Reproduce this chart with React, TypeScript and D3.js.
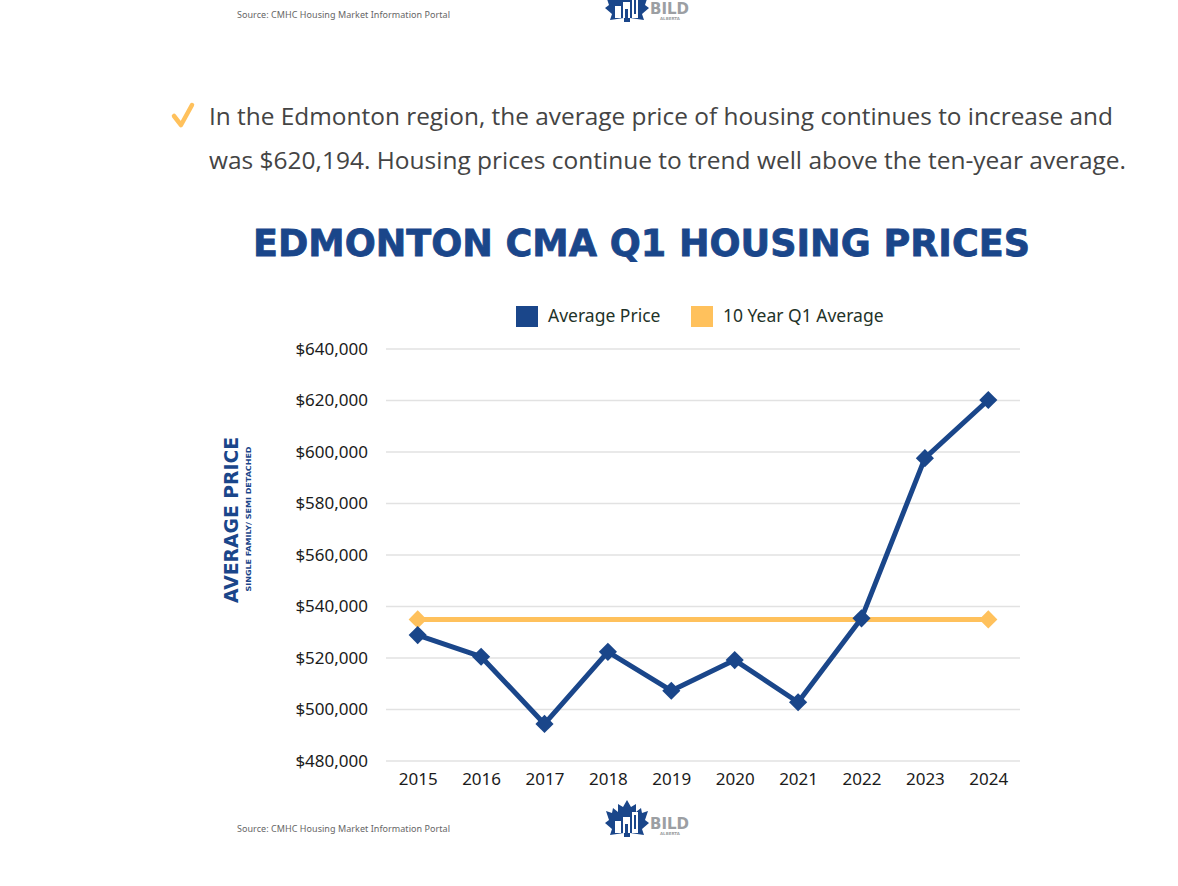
import { useEffect, useRef } from "react";
import * as d3 from "d3";

// chart data
const years = ["2015", "2016", "2017", "2018", "2019", "2020", "2021", "2022", "2023", "2024"];
const averagePrice = [528900, 520500, 494400, 522400, 507300, 519200, 502800, 535400, 597600, 620194];
const tenYearAverage = [535000, 535000, 535000, 535000, 535000, 535000, 535000, 535000, 535000, 535000];
const yTicks = [480000, 500000, 520000, 540000, 560000, 580000, 600000, 620000, 640000];
const legendLabels = ["Average Price", "10 Year Q1 Average"];
const bodyLines = [
  "In the Edmonton region, the average price of housing continues to increase and",
  "was $620,194. Housing prices continue to trend well above the ten-year average.",
];

const BLUE = "#1a468a";
const ORANGE = "#ffc15c";

function drawLogo(g, dy) {
  const logo = g.append("g").attr("transform", `translate(0, ${dy})`);
  // rough maple leaf
  const leaf = [
    [627, 800], [631, 807], [636, 804], [636, 812], [641, 808], [642, 813], [648, 811],
    [645, 820], [649, 823], [642, 829], [644, 835], [630, 833], [630, 837], [624, 837],
    [624, 833], [610, 835], [612, 829], [605, 823], [609, 820], [606, 811], [612, 813],
    [613, 808], [618, 812], [618, 804], [623, 807],
  ];
  logo.append("path")
    .attr("d", d3.line()(leaf) + "Z")
    .attr("fill", BLUE);
  // little white buildings
  logo.append("rect").attr("x", 615).attr("y", 821).attr("width", 6).attr("height", 12).attr("fill", "#fff");
  logo.append("rect").attr("x", 623).attr("y", 817).attr("width", 7).attr("height", 16).attr("fill", "#fff");
  logo.append("rect").attr("x", 632).attr("y", 812).attr("width", 6).attr("height", 21).attr("fill", "#fff");
  logo.append("rect").attr("x", 625).attr("y", 824).attr("width", 3).attr("height", 9).attr("fill", BLUE);
  logo.append("rect").attr("x", 634).attr("y", 815).attr("width", 2).attr("height", 14).attr("fill", BLUE);
  logo.append("text")
    .attr("x", 650).attr("y", 829)
    .attr("font-family", "'DejaVu Sans', sans-serif")
    .attr("font-weight", "bold")
    .attr("font-size", 15)
    .attr("fill", "#9c9fa3")
    .attr("textLength", 39)
    .text("BILD");
  logo.append("text")
    .attr("x", 660).attr("y", 835)
    .attr("font-family", "'DejaVu Sans', sans-serif")
    .attr("font-weight", "bold")
    .attr("font-size", 4)
    .attr("fill", "#9c9fa3")
    .text("ALBERTA");
}

function drawSource(g, y) {
  g.append("text")
    .attr("x", 237).attr("y", y)
    .attr("font-family", "'Noto Sans', sans-serif")
    .attr("font-size", 9)
    .attr("fill", "#666")
    .attr("textLength", 213)
    .text("Source: CMHC Housing Market Information Portal");
}

export default function App() {
  const ref = useRef(null);

  useEffect(() => {
    const svg = d3.select(ref.current);
    svg.selectAll("*").remove();

    const x = d3.scalePoint().domain(years).range([386, 1020]).padding(0.5);
    const y = d3.scaleLinear().domain([480000, 640000]).range([761, 349]);

    // header bits from the previous page
    drawSource(svg, 18);
    drawLogo(svg, -815);

    // check mark + paragraph
    svg.append("path")
      .attr("d", "M174,116 L181,125 L192,105")
      .attr("fill", "none")
      .attr("stroke", ORANGE)
      .attr("stroke-width", 4.5)
      .attr("stroke-linecap", "round")
      .attr("stroke-linejoin", "round");

    bodyLines.forEach((line, i) => {
      svg.append("text")
        .attr("x", 209).attr("y", 125 + i * 44)
        .attr("font-family", "'Open Sans', sans-serif")
        .attr("font-size", 23)
        .attr("fill", "#444")
        .attr("textLength", i === 0 ? 904 : 917)
        .attr("lengthAdjust", "spacingAndGlyphs")
        .text(line);
    });

    // title
    svg.append("text")
      .attr("x", 253).attr("y", 256)
      .attr("font-family", "'DejaVu Sans', sans-serif")
      .attr("font-weight", "bold")
      .attr("font-size", 38)
      .attr("fill", BLUE)
      .attr("stroke", BLUE)
      .attr("stroke-width", 0.8)
      .attr("textLength", 777)
      .attr("lengthAdjust", "spacingAndGlyphs")
      .text("EDMONTON CMA Q1 HOUSING PRICES");

    // legend
    const legendX = [516, 691];
    legendLabels.forEach((lab, i) => {
      svg.append("rect")
        .attr("x", legendX[i]).attr("y", 306)
        .attr("width", 22).attr("height", 21)
        .attr("fill", i === 0 ? BLUE : ORANGE);
      svg.append("text")
        .attr("x", legendX[i] + 32).attr("y", 322)
        .attr("font-family", "'Noto Sans', sans-serif")
        .attr("font-size", 17.5)
        .attr("fill", "#1f3329")
        .text(lab);
    });

    // gridlines
    const plot = svg.append("g");
    plot.selectAll("line.grid")
      .data(yTicks)
      .join("line")
      .attr("class", "grid")
      .attr("x1", 386).attr("x2", 1020)
      .attr("y1", (d) => y(d)).attr("y2", (d) => y(d))
      .attr("stroke", "#e2e2e2")
      .attr("stroke-width", 1.5);

    // y axis
    const yAxis = plot.append("g")
      .attr("transform", "translate(368,0)")
      .call(d3.axisLeft(y).tickValues(yTicks).tickSize(0).tickPadding(0).tickFormat((d) => "$" + d3.format(",")(d)));
    yAxis.select(".domain").remove();
    yAxis.selectAll("text")
      .attr("font-family", "'Noto Sans', sans-serif")
      .attr("font-size", 17)
      .attr("fill", "#1b1b1b");

    // x axis
    const xAxis = plot.append("g")
      .attr("transform", "translate(0,773)")
      .call(d3.axisBottom(x).tickSize(0).tickPadding(0));
    xAxis.select(".domain").remove();
    xAxis.selectAll("text")
      .attr("font-family", "'Noto Sans', sans-serif")
      .attr("font-size", 17)
      .attr("fill", "#1b1b1b");

    // axis title
    svg.append("text")
      .attr("transform", "translate(238,520) rotate(-90)")
      .attr("text-anchor", "middle")
      .attr("font-family", "'DejaVu Sans', sans-serif")
      .attr("font-weight", "bold")
      .attr("font-size", 20)
      .attr("fill", BLUE)
      .attr("textLength", 166)
      .attr("lengthAdjust", "spacingAndGlyphs")
      .text("AVERAGE PRICE");
    svg.append("text")
      .attr("transform", "translate(251,519) rotate(-90)")
      .attr("text-anchor", "middle")
      .attr("font-family", "'DejaVu Sans', sans-serif")
      .attr("font-weight", "bold")
      .attr("font-size", 7)
      .attr("fill", BLUE)
      .attr("textLength", 145)
      .attr("lengthAdjust", "spacingAndGlyphs")
      .text("SINGLE FAMILY/ SEMI DETACHED");

    const line = d3.line().x((d, i) => x(years[i])).y((d) => y(d));
    const diamond = d3.symbol().type(d3.symbolDiamond2).size(210);

    // 10 year average
    plot.append("path")
      .attr("d", line(tenYearAverage))
      .attr("fill", "none")
      .attr("stroke", ORANGE)
      .attr("stroke-width", 5);
    plot.selectAll("path.avgpt")
      .data([0, tenYearAverage.length - 1])
      .join("path")
      .attr("class", "avgpt")
      .attr("d", diamond)
      .attr("transform", (i) => `translate(${x(years[i])},${y(tenYearAverage[i])})`)
      .attr("fill", ORANGE);

    // average price
    plot.append("path")
      .attr("d", line(averagePrice))
      .attr("fill", "none")
      .attr("stroke", BLUE)
      .attr("stroke-width", 5)
      .attr("stroke-linejoin", "round");
    plot.selectAll("path.pt")
      .data(averagePrice)
      .join("path")
      .attr("class", "pt")
      .attr("d", diamond)
      .attr("transform", (d, i) => `translate(${x(years[i])},${y(d)})`)
      .attr("fill", BLUE);

    // footer
    drawSource(svg, 832);
    drawLogo(svg, 0);
  }, []);

  return (
    <svg
      ref={ref}
      width={1178}
      height={886}
      style={{ position: "absolute", left: 0, top: 0, background: "#fff" }}
    ></svg>
  );
}
